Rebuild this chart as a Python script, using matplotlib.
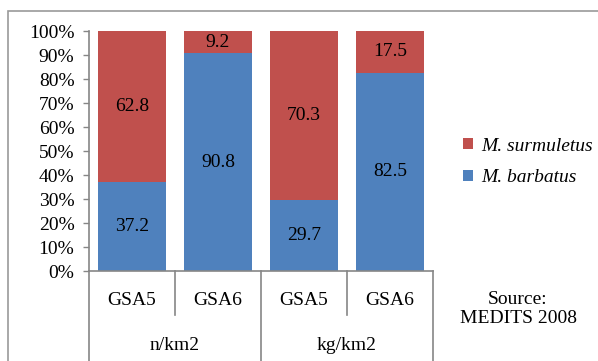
import matplotlib
matplotlib.use('Agg')
import matplotlib.pyplot as plt
from matplotlib.lines import Line2D
from matplotlib.patches import Rectangle
import matplotlib.transforms as mtransforms
from matplotlib.ticker import PercentFormatter

plt.rcParams['font.family'] = ['Liberation Serif', 'DejaVu Serif']

# data
sites = ['GSA5', 'GSA6', 'GSA5', 'GSA6']
units = ['n/km2', 'kg/km2']
barbatus = [37.2, 90.8, 29.7, 82.5]
surmuletus = [62.8, 9.2, 70.3, 17.5]
series_names = ['M. barbatus', 'M. surmuletus']

blue = '#4F81BD'
red = '#C0504D'
axis_gray = '#868686'
fs = 14

W, H = 598, 361
fig = plt.figure(figsize=(W / 100, H / 100), dpi=100)
ax = fig.add_axes([89 / W, (H - 271) / H, (433 - 89) / W, 240 / H])

x = list(range(len(sites)))
b1 = ax.bar(x, barbatus, width=0.79, color=blue, label=series_names[0])
b2 = ax.bar(x, surmuletus, width=0.79, bottom=barbatus, color=red, label=series_names[1])

for i in x:
    ax.text(i, barbatus[i] / 2, f'{barbatus[i]:.1f}', ha='center', va='center', fontsize=fs)
    ax.text(i, barbatus[i] + surmuletus[i] / 2, f'{surmuletus[i]:.1f}',
            ha='center', va='center', fontsize=fs)

ax.set_xlim(-0.5, len(sites) - 0.5)
ax.set_ylim(0, 100)
ax.set_yticks(range(0, 101, 10))
ax.yaxis.set_major_formatter(PercentFormatter(decimals=0))
ax.tick_params(axis='y', labelsize=fs, length=4.5, width=1, color=axis_gray, pad=6)
ax.set_xticks([])
for s in ['top', 'right']:
    ax.spines[s].set_visible(False)
for s in ['left', 'bottom']:
    ax.spines[s].set_color(axis_gray)
    ax.spines[s].set_linewidth(1.2)

# two-level category axis
tr = mtransforms.blended_transform_factory(ax.transData, ax.transAxes)
bottom_y = -(H - 271) / 240
for i, lab in enumerate(sites):
    ax.text(i, -0.121, lab, transform=tr, ha='center', va='center', fontsize=fs)
for g, lab in enumerate(units):
    ax.text(2 * g + 0.5, -0.31, lab, transform=tr, ha='center', va='center', fontsize=fs)
for xs in [-0.5, 1.5, 3.5]:
    ax.add_line(Line2D([xs, xs], [0, bottom_y], transform=tr, color=axis_gray,
                       lw=1.2, clip_on=False))
for xs in [0.5, 2.5]:
    ax.add_line(Line2D([xs, xs], [0, -0.183], transform=tr, color=axis_gray,
                       lw=1.2, clip_on=False))

# legend
leg = fig.legend(handles=[b2, b1], labels=series_names[::-1], loc='center left',
                 bbox_to_anchor=(446 / W, (H - 162) / H), frameon=False,
                 handlelength=0.5, handleheight=0.5, handletextpad=0.4,
                 labelspacing=0.75, prop={'size': fs, 'style': 'italic'})

fig.text(518 / W, (H - 309) / H, 'Source:\nMEDITS 2008', ha='center', va='center',
         fontsize=fs, linespacing=1.2)

# outer chart border
fig.add_artist(Rectangle((8 / W, -0.1), 2, (H - 11) / H + 0.1, transform=fig.transFigure,
                         fill=False, edgecolor='#9A9A9A', lw=1.2))

fig.savefig('out.png', dpi=100)
